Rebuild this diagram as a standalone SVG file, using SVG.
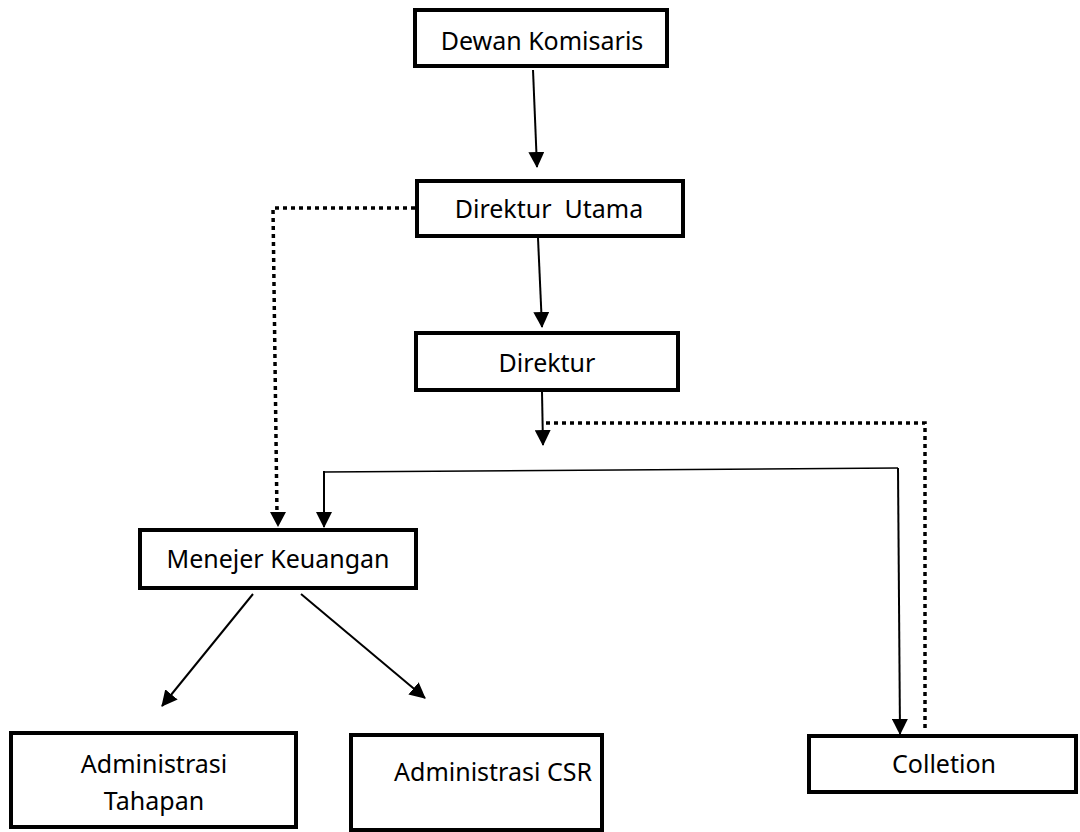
<svg xmlns="http://www.w3.org/2000/svg" width="1080" height="832" viewBox="0 0 1080 832">
<defs>
<style>
.box{fill:#fff;stroke:#000;stroke-width:4}
.lbl{font-family:"Noto Sans","Open Sans","Liberation Sans",sans-serif;font-size:25px;fill:#000;text-anchor:middle}
.ln{fill:none;stroke:#000;stroke-width:2}
.thin{fill:none;stroke:#000;stroke-width:1.6}
.dot{fill:none;stroke:#000;stroke-width:3.5;stroke-dasharray:4 4}
</style>
<marker id="ah" markerUnits="userSpaceOnUse" markerWidth="16" markerHeight="16" refX="15" refY="8" orient="auto" viewBox="0 0 16 16">
<path d="M0,0 L16,8 L0,16 Z" fill="#000"/>
</marker>
</defs>
<rect width="1080" height="832" fill="#fff"/>
<g id="connectors">
<line class="ln" x1="533" y1="70" x2="537" y2="167" marker-end="url(#ah)"/>
<line class="ln" x1="538" y1="238" x2="542" y2="327" marker-end="url(#ah)"/>
<line class="ln" x1="542" y1="392" x2="543" y2="445" marker-end="url(#ah)"/>
<polyline class="dot" points="546,423 925,423 925,732"/>
<polyline class="dot" points="415,208 273,208 277,515"/>
<path d="M270,512 L286,512 L278,527 Z" fill="#000"/>
<polyline class="thin" points="324,472 898,468"/>
<line class="ln" x1="324" y1="471" x2="324" y2="527" marker-end="url(#ah)"/>
<line class="ln" x1="898" y1="468" x2="900" y2="734" marker-end="url(#ah)"/>
<line class="ln" x1="253" y1="594" x2="162" y2="706" marker-end="url(#ah)"/>
<line class="ln" x1="301" y1="594" x2="425" y2="698" marker-end="url(#ah)"/>
</g>
<g id="dewan-komisaris">
<rect class="box" x="415" y="10" width="252" height="56"/>
<text class="lbl" x="542" y="50">Dewan Komisaris</text>
</g>
<g id="direktur-utama">
<rect class="box" x="417" y="181" width="266" height="55"/>
<text class="lbl" x="549" y="218" xml:space="preserve">Direktur  Utama</text>
</g>
<g id="direktur">
<rect class="box" x="416" y="333" width="262" height="57"/>
<text class="lbl" x="547" y="372">Direktur</text>
</g>
<g id="menejer-keuangan">
<rect class="box" x="140" y="530" width="276" height="58"/>
<text class="lbl" x="278" y="568">Menejer Keuangan</text>
</g>
<g id="administrasi-tahapan">
<rect class="box" x="11" y="733" width="285" height="94"/>
<text class="lbl" x="154" y="773">Administrasi</text>
<text class="lbl" x="154" y="810">Tahapan</text>
</g>
<g id="administrasi-csr">
<rect class="box" x="351" y="735" width="251" height="95"/>
<text class="lbl" x="493" y="781">Administrasi CSR</text>
</g>
<g id="colletion">
<rect class="box" x="809" y="736" width="267" height="56"/>
<text class="lbl" x="944" y="773">Colletion</text>
</g>
</svg>
